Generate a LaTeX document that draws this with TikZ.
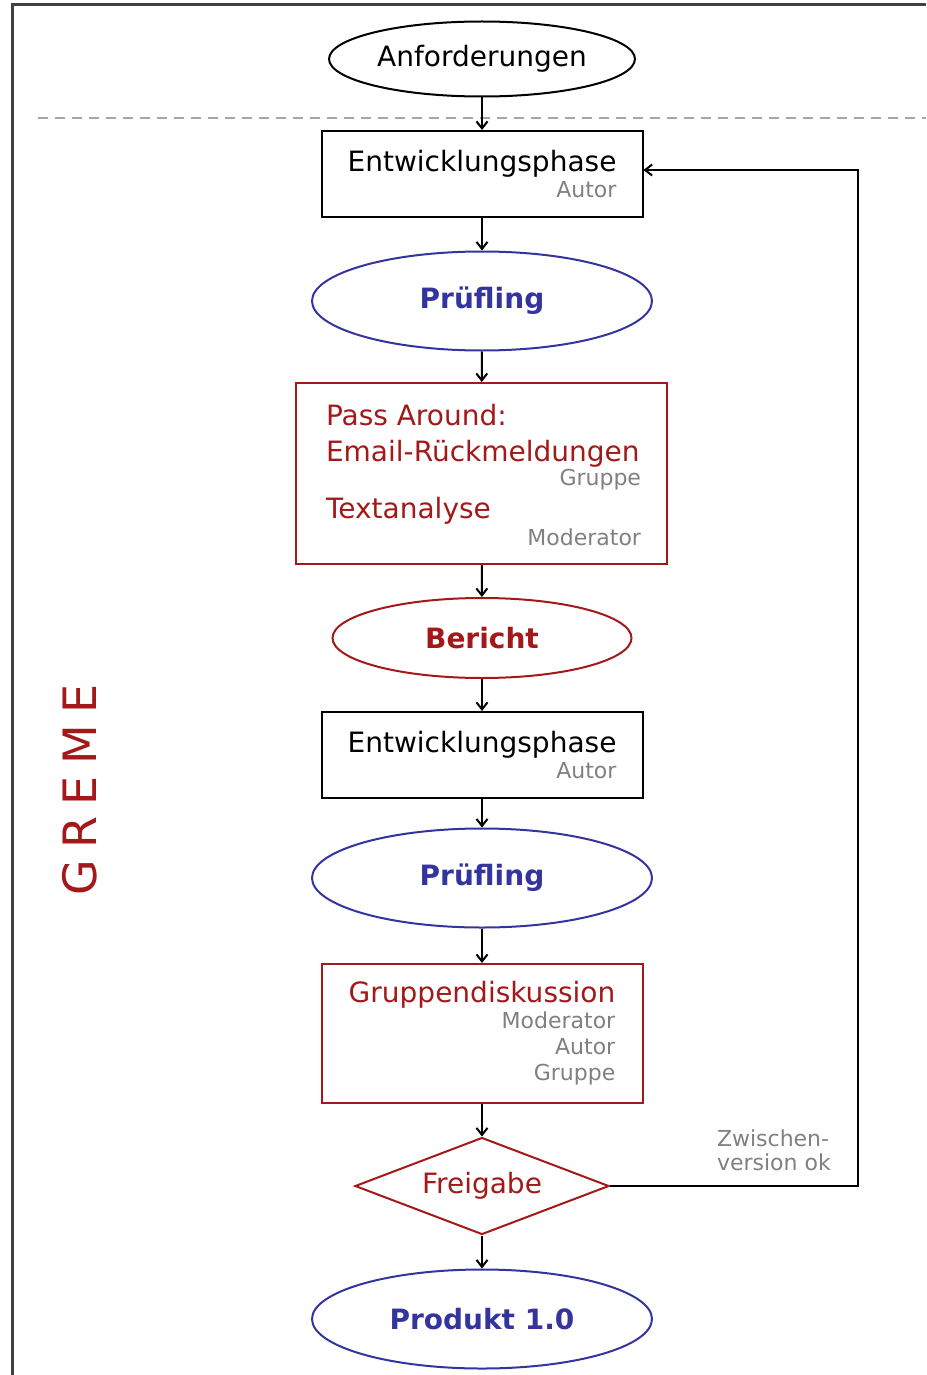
\documentclass[tikz,border=0pt]{standalone}
\usepackage{fontspec}
\setmainfont{DejaVu Sans}
\usetikzlibrary{shapes.geometric,arrows.meta}
\definecolor{gremered}{HTML}{A31818}
\definecolor{gremeblue}{HTML}{34349E}
\definecolor{rolegray}{HTML}{808080}
\newcommand{\gmmain}{\fontsize{28}{26}\selectfont}
\newcommand{\gmbold}{\fontsize{28}{26}\selectfont\bfseries}
\newcommand{\gmrole}{\fontsize{22}{24}\selectfont\color{rolegray}}
\begin{document}
\begin{tikzpicture}
[x=1pt,y=-1pt,line width=2pt,>={Straight Barb[length=7pt,width=11pt]},
 phase/.style={draw=black,align=right,font=\gmmain,minimum width=321pt,minimum height=86pt},
 oval/.style={ellipse,minimum width=340pt,minimum height=99pt}]
\useasboundingbox (0,0) rectangle (926,1375);
\draw[line width=3pt,black!75] (12,1375) -- (12,5) -- (926,5); %% Rahmen
\draw[line width=2.5pt,gray!70,dash pattern=on 10pt off 7pt] (38,118) -- (926,118); %% Trennlinie
\node[ellipse,draw=black,minimum width=298pt,minimum height=75pt,font=\gmmain] (anf) at (482,59) {Anforderungen};
\node[phase] (ent1) at (482,174) {Entwicklungsphase\\{\gmrole Autor}};
\node[oval,draw=gremeblue,text=gremeblue,font=\gmbold] (pr1) at (482,301) {Prüfling};
%%
\node[draw=gremered,minimum width=371pt,minimum height=181pt] (pass) at (481.5,473.5) {};
\node[anchor=base west,inner sep=0pt,text=gremered,font=\gmmain] (pa1) at (325,425) {Pass Around:};
\node[anchor=base west,inner sep=0pt,text=gremered,font=\gmmain] (pa2) at (325,461) {Email-Rückmeldungen};
\node[anchor=base east,inner sep=0pt,font=\gmrole] (pa3) at (642,485) {Gruppe};
\node[anchor=base west,inner sep=0pt,text=gremered,font=\gmmain] (pa4) at (325,518) {Textanalyse};
\node[anchor=base east,inner sep=0pt,font=\gmrole] (pa5) at (642,545) {Moderator};
%%
\node[ellipse,draw=gremered,text=gremered,font=\gmbold,minimum width=299pt,minimum height=80pt] (ber) at (482,638) {Bericht};
\node[phase] (ent2) at (482,755) {Entwicklungsphase\\{\gmrole Autor}};
\node[oval,draw=gremeblue,text=gremeblue,font=\gmbold] (pr2) at (482,878) {Prüfling};
\node[phase,draw=gremered,minimum height=139pt] (disk) at (482,1033.5) {\textcolor{gremered}{Gruppendiskussion}\\{\gmrole Moderator}\\{\gmrole Autor}\\{\gmrole Gruppe}};
\node[diamond,draw=gremered,text=gremered,font=\gmmain,aspect=2.6,inner sep=0pt,minimum width=254pt,minimum height=97pt] (frei) at (482,1186) {Freigabe};
\node[oval,draw=gremeblue,text=gremeblue,font=\gmbold] (prod) at (482,1319) {Produkt 1.0};
%%
\node[rotate=90,text=gremered,font={\fontsize{46}{50}\selectfont\addfontfeature{LetterSpace=25}}] (greme) at (80,790) {GREME};
\node[anchor=south west,inner sep=0pt,align=left,font=\gmrole] (zw) at (716,1172) {Zwischen-\\version ok};
%%
\draw[->] (anf) -- (ent1);
\draw[->] (ent1) -- (pr1);
\draw[->] (pr1) -- (pass);
\draw[->] (pass) -- (ber);
\draw[->] (ber) -- (ent2);
\draw[->] (ent2) -- (pr2);
\draw[->] (pr2) -- (disk);
\draw[->] (disk) -- (frei);
\draw[->] (frei) -- (prod);
\coordinate (ret) at (858,1186);
\draw[->] (frei.east) -- (ret) |- ([yshift=4pt]ent1.east); %% Rueckweg
\end{tikzpicture}
\end{document}
